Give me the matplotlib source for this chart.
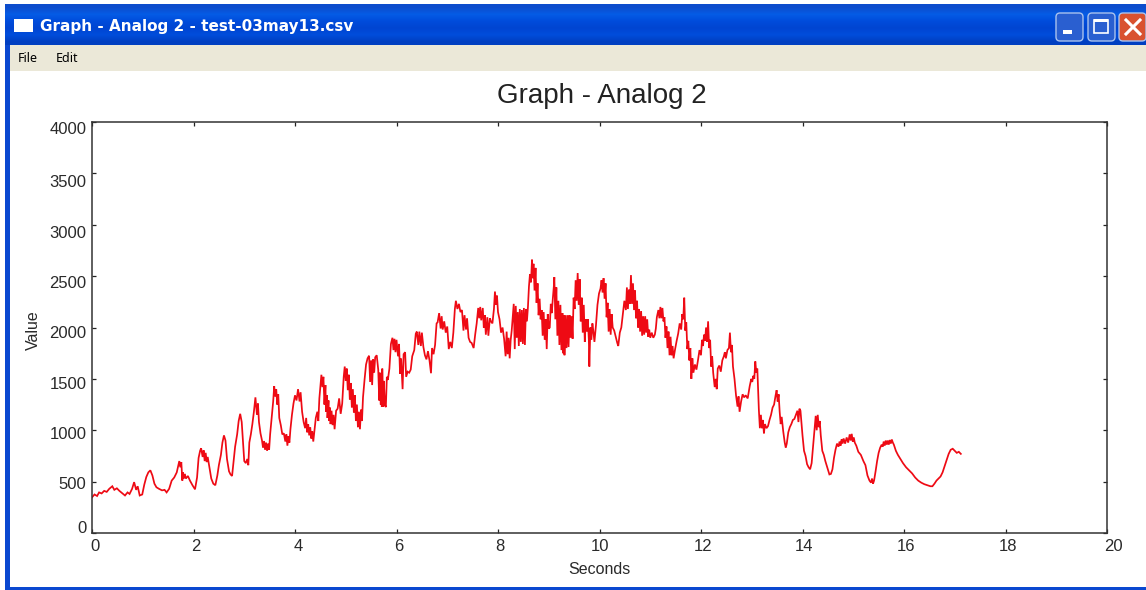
import matplotlib
matplotlib.use('Agg')
import matplotlib.pyplot as plt
from matplotlib.patches import Rectangle, FancyBboxPatch
from matplotlib.transforms import Affine2D
import numpy as np

window_title = 'Graph - Analog 2 - test-03may13.csv'
menu_items = ['File', 'Edit']
chart_title = 'Graph - Analog 2'
x_label = 'Seconds'
y_label = 'Value'
x_ticks = [0, 2, 4, 6, 8, 10, 12, 14, 16, 18, 20]
y_ticks = [0, 500, 1000, 1500, 2000, 2500, 3000, 3500, 4000]

seconds = [
    0.00, 0.05, 0.10, 0.14, 0.19, 0.24, 0.29, 0.34, 0.40, 0.44,
    0.49, 0.54, 0.60, 0.65, 0.70, 0.74, 0.79, 0.83, 0.87, 0.90,
    0.94, 0.99, 1.03, 1.07, 1.11, 1.15, 1.19, 1.23, 1.27, 1.32,
    1.38, 1.43, 1.47, 1.52, 1.57, 1.62, 1.67, 1.72, 1.74, 1.76,
    1.78, 1.79, 1.81, 1.83, 1.85, 1.89, 1.93, 1.98, 2.03, 2.07,
    2.10, 2.13, 2.15, 2.18, 2.20, 2.22, 2.24, 2.26, 2.28, 2.31,
    2.35, 2.39, 2.43, 2.47, 2.50, 2.54, 2.57, 2.60, 2.63, 2.66,
    2.70, 2.73, 2.76, 2.79, 2.82, 2.86, 2.89, 2.92, 2.95, 2.98,
    3.00, 3.03, 3.06, 3.08, 3.10, 3.13, 3.16, 3.19, 3.22, 3.25,
    3.27, 3.29, 3.32, 3.35, 3.37, 3.39, 3.41, 3.43, 3.45, 3.47,
    3.49, 3.51, 3.54, 3.57, 3.59, 3.61, 3.63, 3.65, 3.67, 3.69,
    3.72, 3.75, 3.78, 3.81, 3.83, 3.85, 3.87, 3.89, 3.91, 3.94,
    3.97, 4.00, 4.03, 4.06, 4.09, 4.11, 4.14, 4.17, 4.20, 4.22,
    4.24, 4.26, 4.28, 4.30, 4.32, 4.34, 4.36, 4.38, 4.41, 4.44,
    4.46, 4.48, 4.50, 4.52, 4.54, 4.56, 4.58, 4.60, 4.61, 4.63,
    4.64, 4.66, 4.67, 4.69, 4.70, 4.72, 4.74, 4.76, 4.78, 4.81,
    4.84, 4.87, 4.90, 4.93, 4.96, 4.98, 5.00, 5.02, 5.04, 5.06,
    5.08, 5.10, 5.12, 5.14, 5.16, 5.18, 5.20, 5.22, 5.24, 5.26,
    5.28, 5.30, 5.32, 5.34, 5.37, 5.40, 5.43, 5.46, 5.48, 5.50,
    5.52, 5.54, 5.56, 5.58, 5.61, 5.64, 5.66, 5.67, 5.69, 5.70,
    5.71, 5.72, 5.74, 5.75, 5.77, 5.79, 5.81, 5.83, 5.86, 5.89,
    5.92, 5.94, 5.96, 5.98, 6.00, 6.03, 6.05, 6.07, 6.09, 6.12,
    6.14, 6.17, 6.19, 6.22, 6.25, 6.28, 6.31, 6.35, 6.38, 6.40,
    6.43, 6.45, 6.48, 6.50, 6.53, 6.56, 6.59, 6.62, 6.65, 6.68,
    6.70, 6.73, 6.76, 6.79, 6.81, 6.84, 6.87, 6.89, 6.91, 6.94,
    6.97, 7.00, 7.03, 7.06, 7.09, 7.12, 7.15, 7.17, 7.20, 7.23,
    7.26, 7.29, 7.32, 7.34, 7.37, 7.39, 7.42, 7.45, 7.48, 7.52,
    7.55, 7.58, 7.61, 7.63, 7.65, 7.67, 7.70, 7.72, 7.74, 7.76,
    7.79, 7.81, 7.84, 7.86, 7.89, 7.92, 7.94, 7.96, 7.98, 8.00,
    8.03, 8.06, 8.09, 8.12, 8.15, 8.17, 8.19, 8.21, 8.23, 8.25,
    8.27, 8.29, 8.31, 8.33, 8.35, 8.37, 8.39, 8.41, 8.43, 8.45,
    8.47, 8.49, 8.51, 8.53, 8.55, 8.57, 8.59, 8.61, 8.63, 8.65,
    8.67, 8.68, 8.70, 8.72, 8.74, 8.76, 8.78, 8.80, 8.82, 8.84,
    8.86, 8.88, 8.90, 8.92, 8.94, 8.96, 8.98, 9.00, 9.02, 9.04,
    9.06, 9.08, 9.10, 9.11, 9.13, 9.15, 9.17, 9.19, 9.21, 9.23,
    9.25, 9.27, 9.28, 9.30, 9.31, 9.33, 9.35, 9.37, 9.39, 9.41,
    9.43, 9.45, 9.47, 9.49, 9.51, 9.53, 9.55, 9.57, 9.59, 9.61,
    9.63, 9.65, 9.67, 9.69, 9.71, 9.73, 9.75, 9.77, 9.79, 9.80,
    9.82, 9.84, 9.86, 9.88, 9.90, 9.93, 9.96, 9.99, 10.02, 10.04,
    10.06, 10.08, 10.10, 10.12, 10.14, 10.16, 10.18, 10.20, 10.22, 10.24,
    10.26, 10.29, 10.32, 10.35, 10.37, 10.40, 10.43, 10.46, 10.49, 10.52,
    10.54, 10.56, 10.58, 10.60, 10.62, 10.64, 10.66, 10.68, 10.70, 10.72,
    10.74, 10.76, 10.78, 10.80, 10.82, 10.84, 10.86, 10.88, 10.90, 10.92,
    10.94, 10.96, 10.98, 11.00, 11.03, 11.06, 11.09, 11.11, 11.13, 11.16,
    11.18, 11.20, 11.22, 11.24, 11.26, 11.28, 11.30, 11.32, 11.34, 11.36,
    11.38, 11.40, 11.42, 11.44, 11.46, 11.49, 11.52, 11.55, 11.58, 11.61,
    11.63, 11.65, 11.67, 11.69, 11.71, 11.73, 11.75, 11.77, 11.79, 11.81,
    11.83, 11.85, 11.88, 11.91, 11.94, 11.97, 12.00, 12.02, 12.04, 12.06,
    12.08, 12.10, 12.12, 12.14, 12.16, 12.18, 12.20, 12.22, 12.24, 12.27,
    12.29, 12.31, 12.33, 12.36, 12.39, 12.42, 12.45, 12.47, 12.49, 12.52,
    12.55, 12.57, 12.59, 12.61, 12.63, 12.66, 12.69, 12.72, 12.74, 12.76,
    12.79, 12.82, 12.85, 12.88, 12.92, 12.96, 12.99, 13.01, 13.03, 13.05,
    13.07, 13.09, 13.11, 13.14, 13.16, 13.18, 13.20, 13.22, 13.24, 13.26,
    13.29, 13.32, 13.35, 13.38, 13.41, 13.44, 13.47, 13.49, 13.51, 13.53,
    13.55, 13.57, 13.59, 13.62, 13.65, 13.67, 13.69, 13.72, 13.75, 13.78,
    13.81, 13.84, 13.87, 13.90, 13.92, 13.94, 13.96, 13.98, 14.00, 14.03,
    14.06, 14.09, 14.12, 14.15, 14.18, 14.21, 14.24, 14.26, 14.28, 14.30,
    14.32, 14.34, 14.36, 14.39, 14.42, 14.45, 14.48, 14.50, 14.53, 14.56,
    14.59, 14.62, 14.65, 14.68, 14.71, 14.73, 14.75, 14.77, 14.79, 14.81,
    14.84, 14.87, 14.90, 14.93, 14.95, 14.97, 14.99, 15.01, 15.03, 15.06,
    15.10, 15.15, 15.20, 15.24, 15.28, 15.32, 15.35, 15.37, 15.39, 15.41,
    15.44, 15.47, 15.50, 15.53, 15.56, 15.58, 15.60, 15.62, 15.64, 15.66,
    15.68, 15.70, 15.72, 15.74, 15.76, 15.78, 15.80, 15.84, 15.88, 15.93,
    15.98, 16.04, 16.10, 16.16, 16.22, 16.28, 16.34, 16.40, 16.46, 16.52,
    16.56, 16.60, 16.64, 16.68, 16.72, 16.76, 16.80, 16.84, 16.88, 16.92,
    16.96, 17.00, 17.04, 17.08, 17.12,
]

values = [
    347, 375, 360, 395, 385, 410, 400, 430, 455, 420,
    435, 410, 385, 365, 395, 380, 430, 495, 420, 455,
    365, 375, 470, 545, 590, 610, 560, 480, 445, 430,
    415, 420, 395, 430, 510, 540, 590, 700, 640, 690,
    510, 590, 530, 575, 530, 555, 510, 465, 425, 540,
    730, 800, 825, 740, 805, 700, 780, 690, 740, 650,
    530, 480, 465, 560, 660, 760, 880, 950, 900, 720,
    600, 570, 555, 700, 840, 960, 1090, 1160, 1080, 850,
    700, 680, 720, 660, 880, 960, 1060, 1180, 1320, 1150,
    1260, 1080, 970, 900, 830, 895, 810, 880, 800, 870,
    810, 960, 1120, 1280, 1430, 1330, 1400, 1250, 1350, 1120,
    1050, 960, 970, 890, 960, 850, 940, 880, 1010, 1150,
    1260, 1340, 1290, 1400, 1280, 1370, 1180, 1080, 1020, 1120,
    980, 1060, 950, 1030, 920, 990, 890, 980, 1120, 1180,
    1090, 1310, 1430, 1540, 1420, 1520, 1250, 1440, 1180, 1340,
    1120, 1290, 1090, 1220, 1060, 1190, 1050, 1150, 1010, 1190,
    1210, 1310, 1160, 1260, 1520, 1620, 1480, 1600, 1390, 1540,
    1300, 1460, 1220, 1400, 1170, 1340, 1090, 1250, 1030, 1180,
    1010, 1200, 1090, 1320, 1490, 1640, 1700, 1725, 1470, 1680,
    1440, 1690, 1560, 1710, 1730, 1590, 1290, 1560, 1250, 1510,
    1230, 1600, 1230, 1480, 1250, 1225, 1520, 1490, 1600, 1840,
    1900, 1780, 1890, 1760, 1880, 1720, 1840, 1550, 1700, 1400,
    1740, 1760, 1520, 1570, 1560, 1590, 1720, 1780, 1940, 1960,
    1830, 1960, 1820, 1950, 1810, 1730, 1690, 1770, 1680, 1555,
    1800, 1740, 1830, 2040, 2050, 2140, 1990, 2110, 1980, 2060,
    1950, 2010, 1790, 1860, 1800, 1950, 2180, 2260, 2180, 2230,
    2150, 2170, 1970, 2120, 1980, 2090, 1900, 1860, 1850, 1800,
    1930, 2040, 2190, 2090, 2200, 2070, 2190, 2000, 2120, 1930,
    2100, 1920, 2090, 2060, 2040, 2180, 2350, 2220, 2310, 2150,
    2080, 1950, 2000, 1890, 1720, 1960, 1740, 1900, 1700, 1880,
    1970, 2100, 2230, 1790, 2210, 1900, 2150, 1820, 2180, 1860,
    2170, 1840, 2190, 1830, 2180, 2060, 2200, 2400, 2520, 2440,
    2660, 2480, 2620, 2360, 2580, 2240, 2430, 2120, 2280, 2080,
    2170, 1920, 2150, 1880, 2080, 1790, 2130, 1990, 2000, 2230,
    2140, 2280, 2400, 2490, 2080, 2390, 1920, 2260, 1830, 2220,
    1780, 2140, 1750, 2120, 1730, 2120, 1800, 2120, 1810, 2120,
    1900, 2110, 1890, 2290, 2180, 2460, 2260, 2530, 2220, 2470,
    2060, 2290, 1950, 2220, 1860, 2080, 1960, 2080, 1880, 1620,
    2000, 1880, 2040, 1960, 1860, 2020, 2220, 2330, 2380, 2460,
    2340, 2480, 2280, 2430, 2100, 2240, 1960, 2180, 1930, 2130,
    2000, 1970, 1910, 1850, 1820, 1950, 2000, 2130, 2260, 2170,
    2390, 2180, 2370, 2230, 2510, 2230, 2430, 2170, 2360, 2090,
    2260, 2000, 2180, 1960, 2160, 1920, 2110, 1930, 2110, 1950,
    2080, 1910, 1980, 1900, 1950, 1900, 1930, 1990, 2100, 2170,
    2090, 2200, 2090, 2190, 2060, 2100, 1900, 2010, 1800, 1960,
    1730, 1910, 1730, 1820, 1700, 1790, 1870, 1940, 2040, 1980,
    2130, 2080, 2290, 1970, 2050, 1790, 1870, 1680, 1800, 1500,
    1700, 1560, 1640, 1590, 1680, 1780, 1730, 1880, 1820, 1930,
    1870, 2000, 1860, 2060, 1800, 1880, 1620, 1720, 1560, 1420,
    1500, 1400, 1600, 1630, 1570, 1680, 1720, 1760, 1700, 1780,
    1800, 1950, 1760, 1830, 1620, 1500, 1340, 1230, 1330, 1180,
    1280, 1350, 1320, 1340, 1310, 1430, 1500, 1470, 1530, 1500,
    1670, 1560, 1600, 1200, 1020, 1150, 1020, 1100, 970, 1060,
    1020, 1040, 1100, 1150, 1220, 1250, 1340, 1390, 1280, 1350,
    1180, 1060, 1130, 990, 880, 830, 870, 980, 1030, 1060,
    1100, 1110, 1150, 1190, 1080, 1210, 1190, 1070, 950, 800,
    750, 670, 640, 620, 680, 850, 1020, 1140, 1000, 1150,
    1030, 1090, 950, 800, 760, 700, 650, 620, 570, 575,
    620, 730, 810, 870, 840, 890, 850, 910, 870, 920,
    870, 930, 880, 960, 900, 965, 890, 930, 880, 850,
    790, 760, 700, 660, 560, 510, 490, 530, 480, 510,
    600, 700, 780, 830, 860, 840, 890, 850, 900, 860,
    900, 860, 905, 870, 910, 880, 860, 800, 760, 720,
    680, 640, 610, 580, 540, 510, 490, 475, 465, 455,
    455, 480, 510, 530, 550, 590, 650, 710, 770, 810,
    820, 800, 780, 790, 770,
]

W, H = 1146, 590
fig = plt.figure(figsize=(W / 100, H / 100), dpi=100, facecolor='white')
plt.rcParams['font.family'] = ['Liberation Sans', 'DejaVu Sans']

# window frame, in pixel coordinates
win = fig.add_axes([0, 0, 1, 1], zorder=0)
win.set_xlim(0, W)
win.set_ylim(H, 0)
win.axis('off')
bar = np.array([[0.05, 0.30, 0.80], [0.02, 0.36, 0.90], [0.00, 0.30, 0.86],
                [0.00, 0.27, 0.82], [0.00, 0.30, 0.86], [0.00, 0.25, 0.76]])
win.imshow(bar[:, None, :], extent=(5, W, 45, 4), aspect='auto', interpolation='bilinear')
win.set_xlim(0, W)
win.set_ylim(H, 0)
win.add_patch(Rectangle((5, 45), 5, H - 45, color='#0a48d0', lw=0))
win.add_patch(Rectangle((5, 587), W - 5, 3, color='#0a48d0', lw=0))
win.add_patch(Rectangle((10, 45), W - 10, 26, color='#ebe8d8', lw=0))
win.add_patch(Rectangle((14, 19), 19, 13, color='white', lw=0))
win.text(40, 27, window_title, color='white', fontsize=11, fontweight='bold',
         family=['DejaVu Sans'], va='center')
for label, px in zip(menu_items, [18, 56]):
    win.text(px, 58, label, color='black', fontsize=9, family=['Noto Sans', 'DejaVu Sans'], va='center')

for x0, col in [(1056, '#2a5fd0'), (1088, '#2a5fd0'), (1119, '#d9512f')]:
    win.add_patch(FancyBboxPatch((x0 + 2, 15), 23, 24, boxstyle='round,pad=2,rounding_size=4',
                                 facecolor=col, edgecolor='#a9c2ee', lw=1))
win.add_patch(Rectangle((1063, 30), 9, 4, color='white', lw=0))
win.add_patch(Rectangle((1094, 20), 14, 13, facecolor='none', edgecolor='white', lw=1.2))
win.add_patch(Rectangle((1094, 19), 14, 3, color='white', lw=0))
win.plot([1126, 1140], [20, 34], color='white', lw=2.2)
win.plot([1126, 1140], [34, 20], color='white', lw=2.2)

# plot area
ax = fig.add_axes([92 / W, 1 - 533 / H, (1107 - 92) / W, (533 - 122) / H], zorder=1)
ax.plot(seconds, values, color='#ee0a14', lw=1.25, solid_joinstyle='miter')
ax.set_xlim(0, 20)
ax.set_ylim(0, 4000)
ax.set_xticks(x_ticks)
ax.set_yticks(y_ticks)
ax.tick_params(direction='in', length=3, width=0.9, top=True, right=True,
               color='#222222', labelsize=12, labelcolor='#2a2a2a', pad=4)
for s in ax.spines.values():
    s.set_linewidth(1.1)
    s.set_color('#333333')

# labels in the capture sit slightly off their ticks
x_shift = [3, 2, 3, 2, 2, 1, 2, 2, 2, 2, 6]
y_shift = [6, -1, -3, -4, -5, -6, -7, -8, -6]
for lab, dx in zip(ax.get_xticklabels(), x_shift):
    lab.set_transform(lab.get_transform() + Affine2D().translate(dx, 0))
for lab, dy in zip(ax.get_yticklabels(), y_shift):
    lab.set_transform(lab.get_transform() + Affine2D().translate(0, dy))

win.text(602, 96, chart_title, fontsize=20, color='#222222', ha='center', va='center')
win.text(599, 569, x_label, fontsize=11.5, color='#2a2a2a', ha='center', va='center')
win.text(33, 330, y_label, fontsize=11.5, color='#2a2a2a', ha='center', va='center', rotation=90)

fig.savefig('out.png', dpi=100)
